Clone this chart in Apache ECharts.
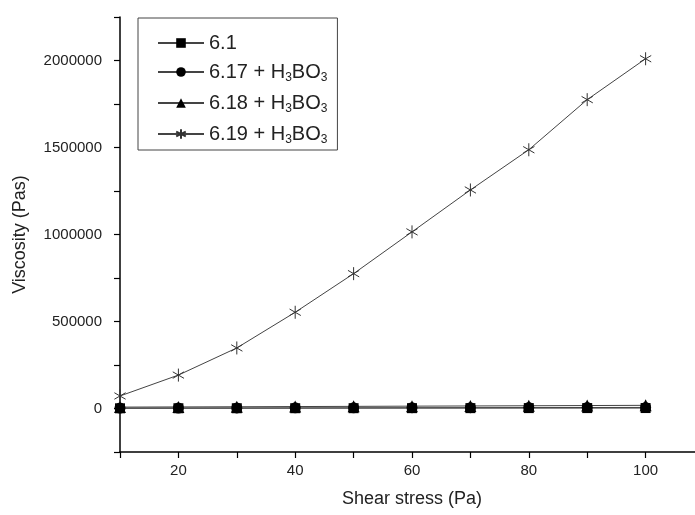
<!DOCTYPE html>
<html>
<head>
<meta charset="utf-8">
<script src="https://cdn.jsdelivr.net/npm/echarts@6/dist/echarts.min.js"></script>
<style>html,body{margin:0;padding:0;background:#fff;}#c{width:695px;height:515px;}</style>
</head>
<body>
<div id="c"></div>
<script>
const shearStress = [10, 20, 30, 40, 50, 60, 70, 80, 90, 100];
const v61 = [1200, 1400, 1500, 1700, 1800, 2000, 2100, 2300, 2400, 2600];
const v617 = [2500, 2900, 3300, 3700, 4100, 4500, 4900, 5300, 5700, 6100];
const v618 = [8000, 9000, 10000, 11200, 12300, 13500, 14600, 15800, 17000, 18200];
const v619 = [72000, 192000, 348000, 553000, 775000, 1015000, 1256000, 1487000, 1775000, 2010000];
const seriesNames = ['6.1', '6.17 + H3BO3', '6.18 + H3BO3', '6.19 + H3BO3'];
const yLabelValues = [0, 500000, 1000000, 1500000, 2000000];
const xLabelValues = [20, 40, 60, 80, 100];

const FONT = '"Liberation Sans", Arial, sans-serif';
const pair = arr => shearStress.map((x, i) => [x, arr[i]]);
const starPath = 'path://M0,-10L0,10M-8.66,-5L8.66,5M-8.66,5L8.66,-5';

const chart = echarts.init(document.getElementById('c'), null, {renderer: 'canvas'});
const common = {type: 'line', showSymbol: true, lineStyle: {color: '#444', width: 1}, z: 3};
chart.setOption({
  animation: false,
  backgroundColor: '#fff',
  grid: {left: 120, right: -9, top: 17, bottom: 63, containLabel: false, outerBoundsMode: 'none'},
  xAxis: {
    type: 'value', min: 10, max: 110, interval: 10,
    name: 'Shear stress (Pa)', nameLocation: 'middle', nameGap: 38,
    nameTextStyle: {fontFamily: FONT, fontSize: 18, color: '#222'},
    axisLine: {onZero: false, lineStyle: {color: '#000', width: 1.5}},
    axisTick: {show: true, inside: false, length: 6, lineStyle: {color: '#000', width: 1.2}},
    axisLabel: {fontFamily: FONT, fontSize: 15, color: '#222', margin: 11,
      formatter: v => xLabelValues.includes(v) ? String(v) : ''},
    splitLine: {show: false}
  },
  yAxis: {
    type: 'value', min: -250000, max: 2250000, interval: 250000,
    name: 'Viscosity (Pas)', nameLocation: 'middle', nameGap: 91,
    nameTextStyle: {fontFamily: FONT, fontSize: 18, color: '#222'},
    axisLine: {onZero: false, lineStyle: {color: '#000', width: 1.5}},
    axisTick: {show: true, inside: false, length: 6, lineStyle: {color: '#000', width: 1.2}},
    axisLabel: {fontFamily: FONT, fontSize: 15, color: '#222', margin: 18,
      formatter: v => yLabelValues.includes(v) ? String(v) : ''},
    splitLine: {show: false}
  },
  legend: {
    left: 138, top: 18, orient: 'vertical',
    padding: [15, 10, 4, 19],
    borderColor: '#444', borderWidth: 1,
    itemWidth: 46, itemHeight: 12, itemGap: 7,
    data: seriesNames,
    textStyle: {fontFamily: FONT, fontSize: 20, color: '#222', lineHeight: 20,
      rich: {s: {fontFamily: FONT, fontSize: 12, color: '#222', lineHeight: 10, padding: [12, 0, 0, 0]}}},
    formatter: n => n.replace(/H3BO3/, 'H{s|3}BO{s|3}')
  },
  series: [
    Object.assign({}, common, {name: seriesNames[0], data: pair(v61), symbol: 'rect', symbolSize: 10,
      itemStyle: {color: '#000'}}),
    Object.assign({}, common, {name: seriesNames[1], data: pair(v617), symbol: 'circle', symbolSize: 11,
      itemStyle: {color: '#000'}}),
    Object.assign({}, common, {name: seriesNames[2], data: pair(v618), symbol: 'triangle', symbolSize: 12,
      itemStyle: {color: '#000'}}),
    Object.assign({}, common, {name: seriesNames[3], data: pair(v619), symbol: starPath, symbolSize: 13,
      symbolKeepAspect: true, lineStyle: {color: '#444', width: 1},
      itemStyle: {color: 'none', borderColor: '#333', borderWidth: 1}})
  ]
});
</script>
</body>
</html>
